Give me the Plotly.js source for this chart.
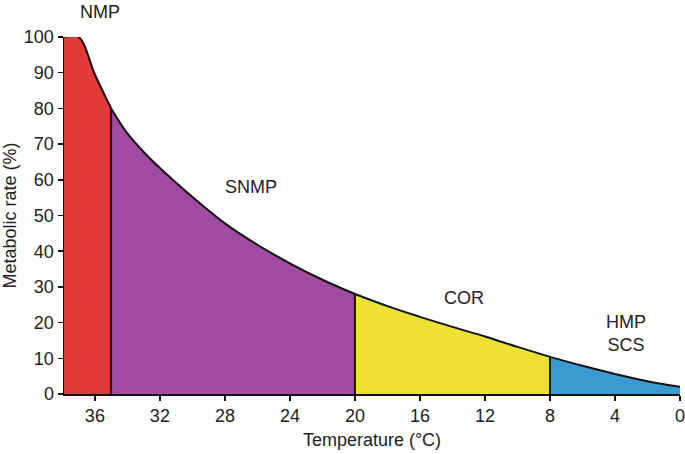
<!DOCTYPE html>
<html>
<head>
<meta charset="utf-8">
<script src="https://cdn.plot.ly/plotly-3.0.1.min.js"></script>
<style>html,body{margin:0;padding:0;background:#fff;}#chart{width:685px;height:454px;}</style>
</head>
<body>
<div id="chart"></div>
<script>
// Temperature (°C) and metabolic rate (%)
var temps = [37.9, 37, 36, 35, 34, 33, 32, 30, 28, 26, 24, 22, 20, 18, 16, 14, 12, 10, 8, 6, 4, 2, 0];
var rates = [100, 100, 89.5, 80, 73, 67.8, 63.3, 55.2, 47.8, 41.8, 36.6, 32, 28, 24.6, 21.6, 18.8, 16.1, 13.2, 10.4, 7.9, 5.6, 3.6, 2];
// Zone boundaries (°C)
var boundaries = [37.9, 35, 20, 8, 0];
var zoneNames = ["NMP", "SNMP", "COR", "HMP<br>SCS"];
var zoneColors = ["#E2393B", "#A14CA2", "#EDE134", "#3A9AD0"];
var labelX = [35.7, 26.4, 13.3, 3.3];
var labelY = [107, 58, 27, 17];
var xTicks = [36, 32, 28, 24, 20, 16, 12, 8, 4, 0];
var yTicks = [0, 10, 20, 30, 40, 50, 60, 70, 80, 90, 100];
var yMax = 100;

var traces = [];
for (var z = 0; z < 4; z++) {
  var hi = boundaries[z], lo = boundaries[z + 1];
  var xs = [], ys = [];
  for (var i = 0; i < temps.length; i++) {
    if (temps[i] <= hi && temps[i] >= lo) { xs.push(temps[i]); ys.push(rates[i]); }
  }
  traces.push({
    x: xs, y: ys, type: "scatter", mode: "lines",
    line: {color: "#111", width: 2, shape: "spline", smoothing: 1},
    fill: "tozeroy", fillcolor: zoneColors[z], hoverinfo: "skip"
  });
}

function rateAt(t) {
  for (var i = 0; i < temps.length; i++) if (temps[i] === t) return rates[i];
  return 0;
}
var shapes = [];
for (var b = 1; b < boundaries.length - 1; b++) {
  shapes.push({type: "line", xref: "x", yref: "y", x0: boundaries[b], x1: boundaries[b],
    y0: 0, y1: rateAt(boundaries[b]), line: {color: "#111", width: 2}});
}

var annotations = [];
for (var a = 0; a < 4; a++) {
  annotations.push({x: labelX[a], y: labelY[a] / yMax, xref: "x", yref: "paper", text: zoneNames[a],
    xanchor: "center", yanchor: "middle",
    showarrow: false, font: {family: "Liberation Sans, Arial, sans-serif", size: 18, color: "#222"}});
}

var layout = {
  width: 685, height: 454,
  margin: {l: 64, r: 5, t: 37, b: 60},
  paper_bgcolor: "#fff", plot_bgcolor: "#fff",
  showlegend: false,
  font: {family: "Liberation Sans, Arial, sans-serif", size: 18, color: "#222"},
  xaxis: {
    range: [37.9, 0], tickvals: xTicks, ticktext: xTicks.map(String),
    showgrid: false, zeroline: false, showline: true, linecolor: "#111", linewidth: 1.5,
    ticks: "outside", ticklen: 5, tickcolor: "#111", tickwidth: 1.5,
    ticklabeloverflow: "allow", automargin: false,
    title: {text: "Temperature (°C)", font: {size: 18}, standoff: 8}
  },
  yaxis: {
    range: [0, yMax], tickvals: yTicks, ticktext: yTicks.map(String),
    showgrid: false, zeroline: false, showline: true, linecolor: "#111", linewidth: 1.5,
    ticks: "outside", ticklen: 5, tickcolor: "#111", tickwidth: 1.5,
    automargin: false,
    title: {text: "Metabolic rate (%)", font: {size: 18}, standoff: 6}
  },
  shapes: shapes,
  annotations: annotations
};
Plotly.newPlot("chart", traces, layout, {displayModeBar: false, staticPlot: true});
</script>
</body>
</html>
